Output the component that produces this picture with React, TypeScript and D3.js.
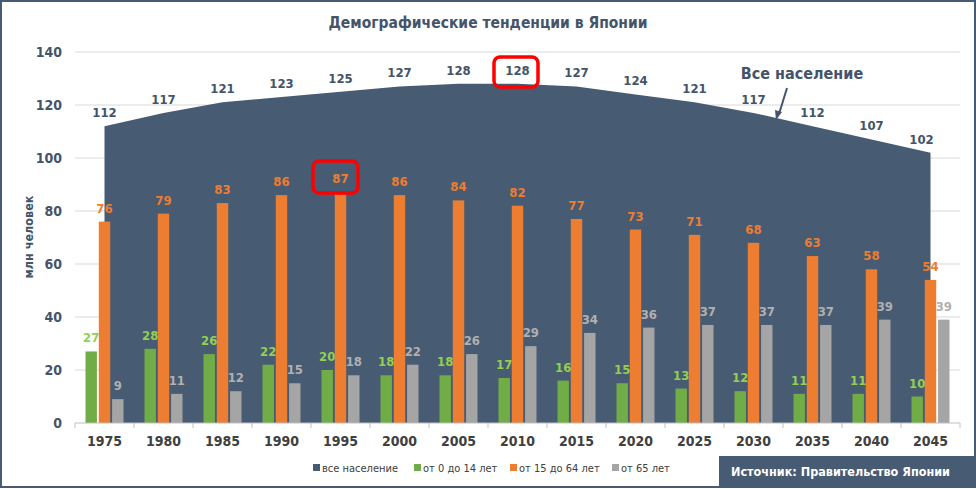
import React from "react";
import * as d3 from "d3";

const years = ["1975","1980","1985","1990","1995","2000","2005","2010","2015","2020","2025","2030","2035","2040","2045"];
const total = [112,117,121,123,125,127,128,128,127,124,121,117,112,107,102];
const young = [27,28,26,22,20,18,18,17,16,15,13,12,11,11,10];
const working = [76,79,83,86,87,86,84,82,77,73,71,68,63,58,54];
const elderly = [9,11,12,15,18,22,26,29,34,36,37,37,37,39,39];
const yTicks = [0,20,40,60,80,100,120,140];
const legendItems = ["все население","от 0 до 14 лет","от 15 до 64 лет","от 65 лет"];

const W = 976, H = 489;
const FONT = "'Liberation Sans Narrow','DejaVu Sans Condensed','Roboto Condensed',sans-serif";
const C_AREA = "#475b73";
const C_GREEN = "#70ad47";
const C_ORANGE = "#ed7d31";
const C_GRAY = "#a5a5a5";
const C_TEXT = "#44546a";

export default function App() {
  const x = d3.scaleBand<string>().domain(years).range([75, 960]);
  const y = d3.scaleLinear().domain([0, 140]).range([423, 52]);
  const groupW = 38;
  const inner = d3.scaleBand<string>().domain(["g","o","e"]).range([0, groupW]).paddingInner(0.14);
  const cx = (yr: string) => (x(yr) as number) + x.bandwidth() / 2;
  const area = d3.area<number>().x((_, i) => cx(years[i])).y0(y(0)).y1(d => y(d));
  const series = [
    { key: "g", data: young, color: C_GREEN, label: "#92d050" },
    { key: "o", data: working, color: C_ORANGE, label: C_ORANGE },
    { key: "e", data: elderly, color: C_GRAY, label: "#b0b0b0" },
  ];
  const legendX = [313, 414, 510, 612];
  const legendColors = [C_AREA, C_GREEN, C_ORANGE, C_GRAY];
  return (
    <svg width={W} height={H} style={{ position: "absolute", left: 0, top: 0, fontFamily: FONT }}>
      <rect x={0} y={0} width={W} height={H} fill="#fff" />
      <rect x={1} y={1} width={W - 2} height={H - 3} fill="none" stroke={C_AREA} strokeWidth={2} />
      <text x={488} y={28} textAnchor="middle" fontSize={15.5} fontWeight="bold" fill={C_TEXT}>Демографические тенденции в Японии</text>
      {yTicks.map(t => (
        <g key={t}>
          {t > 0 && <line x1={75} x2={960} y1={y(t)} y2={y(t)} stroke="#d9d9d9" strokeWidth={1} />}
          <text x={62} y={y(t) + 5} textAnchor="end" fontSize={14} fontWeight="bold" fill={C_TEXT}>{t}</text>
        </g>
      ))}
      <text transform={`translate(33,237) rotate(-90)`} textAnchor="middle" fontSize={12.5} fontWeight="bold" fill={C_TEXT}>млн человек</text>
      <path d={area(total) || ""} fill={C_AREA} />
      {series.map(s => s.data.map((v, i) => {
        const bx = (x(years[i]) as number) + (x.bandwidth() - groupW) / 2 + (inner(s.key) as number);
        return (
          <g key={s.key + i}>
            <rect x={bx} y={y(v)} width={inner.bandwidth()} height={y(0) - y(v)} fill={s.color} />
            <text x={bx + inner.bandwidth() / 2} y={y(v) - 9} textAnchor="middle" fontSize={13} fontWeight="bold" fill={s.label}>{v}</text>
          </g>
        );
      }))}
      <line x1={75} x2={960} y1={y(0)} y2={y(0)} stroke="#bfbfbf" />
      {[...years.map(yr => x(yr) as number), 960].map((t, i) => (
        <line key={i} x1={t} x2={t} y1={y(0)} y2={y(0) + 5} stroke="#bfbfbf" />
      ))}
      {years.map(yr => (
        <text key={yr} x={cx(yr)} y={446} textAnchor="middle" fontSize={14} fontWeight="bold" fill="#404040">{yr}</text>
      ))}
      {total.map((v, i) => (
        <text key={i} x={cx(years[i]) + (i === total.length - 1 ? -9 : 0)} y={y(v) - 9} textAnchor="middle" fontSize={13} fontWeight="bold" fill={C_TEXT}>{v}</text>
      ))}
      <text x={802} y={79} textAnchor="middle" fontSize={16} fontWeight="bold" fill={C_TEXT}>Все население</text>
      <line x1={787} y1={88} x2={779} y2={114} stroke={C_TEXT} strokeWidth={2} />
      <path d="M776,120 L775,110 L782,112 Z" fill={C_TEXT} />
      <rect x={(x("2010") as number) + 6} y={57} width={44} height={30} rx={6} fill="none" stroke="#ff0000" strokeWidth={3.5} />
      <rect x={(x("1995") as number) + 2} y={161} width={45} height={32} rx={6} fill="none" stroke="#ff0000" strokeWidth={3.5} />
      {legendItems.map((l, i) => (
        <g key={l}>
          <rect x={legendX[i]} y={464} width={7} height={7} fill={legendColors[i]} />
          <text x={legendX[i] + 9} y={471.5} fontSize={11} fill="#404040">{l}</text>
        </g>
      ))}
      <rect x={719} y={456} width={256} height={31} fill={C_AREA} />
      <text x={731} y={476} fontSize={12.5} fontWeight="bold" fill="#fff">Источник: Правительство Японии</text>
    </svg>
  );
}
